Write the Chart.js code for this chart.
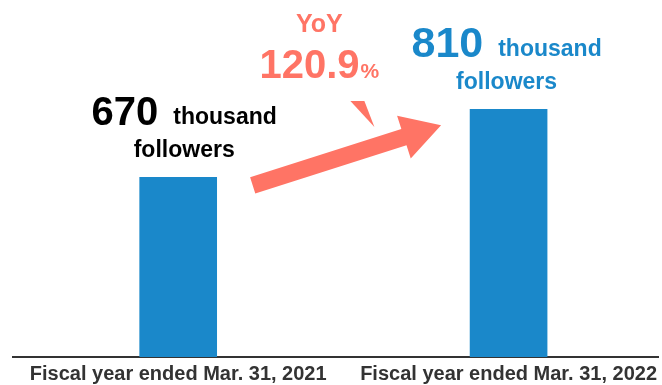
<!DOCTYPE html>
<html>
<head>
<meta charset="utf-8">
<script src="https://cdn.jsdelivr.net/npm/chart.js@4/dist/chart.umd.min.js"></script>
<style>
  html, body { margin: 0; padding: 0; background: #fff; }
  #wrap { width: 662px; height: 385px; position: relative; }
</style>
</head>
<body>
<div id="wrap"><canvas id="followersChart"></canvas></div>
<script>
// Follower counts (thousands) by fiscal year
const categories = ['Fiscal year ended Mar. 31, 2021', 'Fiscal year ended Mar. 31, 2022'];
const followers = [670, 810];
const unitTop = 'thousand';
const unitBottom = 'followers';

const FONT = "'Liberation Sans', Arial, Helvetica, sans-serif";
const BLUE = '#1a88ca';
const SALMON = '#ff7465';

// Value labels above each bar: big number + "thousand", then "followers"
const valueLabels = {
    id: 'valueLabels',
    afterDatasetsDraw(chart) {
        const ctx = chart.ctx;
        const bars = chart.getDatasetMeta(0).data;
        const colors = ['#000000', BLUE];
        const numSizes = [40, 43];
        const nudge = [6, -2];
        ctx.save();
        ctx.textBaseline = 'alphabetic';
        bars.forEach(function(bar, i) {
            const cx = bar.x + nudge[i];
            const num = String(followers[i]);
            ctx.fillStyle = colors[i];

            ctx.font = 'bold ' + numSizes[i] + 'px ' + FONT;
            const wNum = ctx.measureText(num).width;
            ctx.font = 'bold 23px ' + FONT;
            const wUnit = ctx.measureText(unitTop).width;
            const gap = 15;
            let x = cx - (wNum + gap + wUnit) / 2;

            ctx.textAlign = 'left';
            ctx.font = 'bold ' + numSizes[i] + 'px ' + FONT;
            ctx.fillText(num, x, bar.y - 52);
            ctx.font = 'bold 23px ' + FONT;
            ctx.fillText(unitTop, x + wNum + gap, bar.y - 53);

            ctx.textAlign = 'center';
            ctx.fillText(unitBottom, cx, bar.y - 20);
        });
        ctx.restore();
    }
};

// Growth arrow between the bars and the YoY callout
const yoyArrow = {
    id: 'yoyArrow',
    afterDatasetsDraw(chart) {
        const ctx = chart.ctx;
        const bars = chart.getDatasetMeta(0).data;
        const b1 = bars[0], b2 = bars[1];
        const top = chart.chartArea.top;

        ctx.save();
        ctx.fillStyle = SALMON;

        // arrow
        const sx = b1.x + b1.width / 2 + 36, sy = b1.y + 8;
        const tx = b2.x - b2.width / 2 - 29, ty = b2.y + 16;
        const len = Math.hypot(tx - sx, ty - sy);
        const ux = (tx - sx) / len, uy = (ty - sy) / len;
        const nx = -uy, ny = ux;
        const shaftHalf = 8.5, headLen = 39, headHalf = 22.5;
        const bx = tx - ux * headLen, by = ty - uy * headLen;
        ctx.beginPath();
        ctx.moveTo(sx + nx * shaftHalf, sy + ny * shaftHalf);
        ctx.lineTo(bx + nx * shaftHalf, by + ny * shaftHalf);
        ctx.lineTo(bx + nx * headHalf, by + ny * headHalf);
        ctx.lineTo(tx, ty);
        ctx.lineTo(bx - nx * headHalf, by - ny * headHalf);
        ctx.lineTo(bx - nx * shaftHalf, by - ny * shaftHalf);
        ctx.lineTo(sx - nx * shaftHalf, sy - ny * shaftHalf);
        ctx.closePath();
        ctx.fill();

        // callout text
        const ax = (b1.x + b2.x) / 2 - 24;
        const pct = (followers[1] / followers[0] * 100).toFixed(1);
        ctx.textBaseline = 'alphabetic';
        ctx.textAlign = 'center';
        ctx.font = 'bold 25px ' + FONT;
        ctx.fillText('YoY', ax, top + 15);

        ctx.font = 'bold 40px ' + FONT;
        const wPct = ctx.measureText(pct).width;
        ctx.font = 'bold 21px ' + FONT;
        const wSign = ctx.measureText('%').width;
        const x0 = ax - (wPct + 1 + wSign) / 2;
        ctx.textAlign = 'left';
        ctx.font = 'bold 40px ' + FONT;
        ctx.fillText(pct, x0, top + 61);
        ctx.font = 'bold 21px ' + FONT;
        ctx.fillText('%', x0 + wPct + 1, top + 61);

        // callout pointer
        ctx.beginPath();
        ctx.moveTo(ax + 31, top + 84);
        ctx.lineTo(ax + 45, top + 84);
        ctx.lineTo(ax + 55, top + 110);
        ctx.closePath();
        ctx.fill();
        ctx.restore();
    }
};

const ctx = document.getElementById('followersChart');
new Chart(ctx, {
    type: 'bar',
    data: {
        datasets: [{
            data: followers.map((v, i) => ({ x: i, y: v })),
            backgroundColor: BLUE,
            barThickness: 77,
            borderWidth: 0
        }]
    },
    options: {
        responsive: true,
        maintainAspectRatio: false,
        animation: false,
        layout: {
            padding: { top: 17, left: 13, right: 0, bottom: -6 }
        },
        scales: {
            x: {
                type: 'linear',
                min: -0.5,
                max: 1.455,
                offset: false,
                z: 1,
                grid: { display: false, drawTicks: false },
                border: { display: true, color: '#333333', width: 2 },
                afterBuildTicks: function(scale) {
                    scale.ticks = categories.map((_, i) => ({ value: i }));
                },
                ticks: {
                    autoSkip: false,
                    maxRotation: 0,
                    padding: 5,
                    color: '#333333',
                    font: { family: FONT, size: 20, weight: 'bold' },
                    callback: function(value) {
                        return categories[value];
                    }
                }
            },
            y: {
                display: false,
                min: 300,
                max: 1000
            }
        },
        plugins: {
            legend: { display: false },
            tooltip: { enabled: false }
        }
    },
    plugins: [valueLabels, yoyArrow]
});
</script>
</body>
</html>
